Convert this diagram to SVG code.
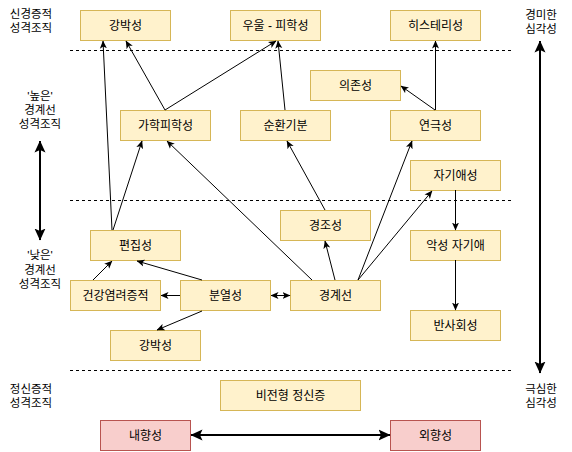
<svg xmlns="http://www.w3.org/2000/svg" width="572" height="452" viewBox="0 0 572 452">
<style>
text{font-family:"Liberation Sans","Noto Sans CJK KR",sans-serif;font-size:12px;fill:#000;text-anchor:middle}
.lbl{font-size:11.5px}
.n rect{fill:#fff2cc;stroke:#d6b656;stroke-width:1}
.r rect{fill:#f8cecc;stroke:#b85450;stroke-width:1}
.c line{stroke:#000;stroke-width:1;fill:none}
.c .thick{stroke-width:2}
.dash{stroke:#000;stroke-width:1;stroke-dasharray:3,3}
</style>
<defs>
<marker id="a" viewBox="0 0 8 8" markerWidth="8" markerHeight="8" refX="7.5" refY="4" orient="auto-start-reverse" markerUnits="userSpaceOnUse"><path d="M0,0.5 L8,4 L0,7.5 L2,4 Z" fill="#000"/></marker>
<marker id="b" viewBox="0 0 12 12" markerWidth="12" markerHeight="12" refX="11.5" refY="6" orient="auto-start-reverse" markerUnits="userSpaceOnUse"><path d="M0,0.5 L12,6 L0,11.5 L2.5,6 Z" fill="#000"/></marker>
</defs>
<rect width="572" height="452" fill="#fff"/>
<g id="dividers">
<line class="dash" x1="70" y1="50.5" x2="511" y2="50.5"/>
<line class="dash" x1="70" y1="200.5" x2="511" y2="200.5"/>
<line class="dash" x1="70" y1="370.5" x2="511" y2="370.5"/>
</g>
<g id="side-labels">
<text class="lbl" x="31" y="18">신경증적</text>
<text class="lbl" x="31" y="32">성격조직</text>
<text class="lbl" x="40" y="100">'높은'</text>
<text class="lbl" x="40" y="114">경계선</text>
<text class="lbl" x="40" y="128">성격조직</text>
<text class="lbl" x="40" y="259">'낮은'</text>
<text class="lbl" x="40" y="274">경계선</text>
<text class="lbl" x="40" y="288">성격조직</text>
<text class="lbl" x="31" y="393">정신증적</text>
<text class="lbl" x="31" y="407">성격조직</text>
<text class="lbl" x="541" y="19">경미한</text>
<text class="lbl" x="541" y="33">심각성</text>
<text class="lbl" x="541" y="393">극심한</text>
<text class="lbl" x="541" y="407">심각성</text>
</g>
<g id="n-gangbak-top" class="n"><rect x="80.5" y="10.5" width="90" height="30"/><text x="125.5" y="30">강박성</text></g>
<g id="n-uul" class="n"><rect x="230.5" y="10.5" width="90" height="30"/><text x="275.5" y="30">우울 - 피학성</text></g>
<g id="n-hysteria" class="n"><rect x="390.5" y="10.5" width="90" height="30"/><text x="435.5" y="30">히스테리성</text></g>
<g id="n-dependent" class="n"><rect x="310.5" y="70.5" width="90" height="30"/><text x="355.5" y="90">의존성</text></g>
<g id="n-sadomaso" class="n"><rect x="120.5" y="110.5" width="90" height="30"/><text x="165.5" y="130">가학피학성</text></g>
<g id="n-cyclo" class="n"><rect x="240.5" y="110.5" width="90" height="30"/><text x="285.5" y="130">순환기분</text></g>
<g id="n-histrionic" class="n"><rect x="390.5" y="110.5" width="90" height="30"/><text x="435.5" y="130">연극성</text></g>
<g id="n-narc" class="n"><rect x="410.5" y="160.5" width="90" height="30"/><text x="455.5" y="180">자기애성</text></g>
<g id="n-hypomanic" class="n"><rect x="280.5" y="210.5" width="90" height="30"/><text x="325.5" y="230">경조성</text></g>
<g id="n-paranoid" class="n"><rect x="90.5" y="230.5" width="90" height="30"/><text x="135.5" y="250">편집성</text></g>
<g id="n-malignant" class="n"><rect x="410.5" y="230.5" width="90" height="30"/><text x="455.5" y="250">악성 자기애</text></g>
<g id="n-hypochondria" class="n"><rect x="70.5" y="280.5" width="90" height="30"/><text x="115.5" y="300">건강염려증적</text></g>
<g id="n-schizoid" class="n"><rect x="180.5" y="280.5" width="90" height="30"/><text x="225.5" y="300">분열성</text></g>
<g id="n-borderline" class="n"><rect x="290.5" y="280.5" width="90" height="30"/><text x="335.5" y="300">경계선</text></g>
<g id="n-antisocial" class="n"><rect x="410.5" y="310.5" width="90" height="30"/><text x="455.5" y="330">반사회성</text></g>
<g id="n-gangbak-low" class="n"><rect x="110.5" y="330.5" width="90" height="30"/><text x="155.5" y="350">강박성</text></g>
<g id="n-atypical" class="n"><rect x="220.5" y="380.5" width="140" height="30"/><text x="290.5" y="400">비전형 정신증</text></g>
<g id="n-intro" class="r"><rect x="100.5" y="420.5" width="90" height="30"/><text x="145.5" y="440">내향성</text></g>
<g id="n-extro" class="r"><rect x="390.5" y="420.5" width="90" height="30"/><text x="435.5" y="440">외향성</text></g>
<g id="connectors" class="c">
<line x1="112" y1="230" x2="103" y2="41" marker-end="url(#a)"/>
<line x1="113" y1="230" x2="142" y2="141" marker-end="url(#a)"/>
<line x1="165" y1="110" x2="126" y2="41" marker-end="url(#a)"/>
<line x1="165" y1="110" x2="276" y2="41" marker-end="url(#a)"/>
<line x1="285" y1="110" x2="278" y2="41" marker-end="url(#a)"/>
<line x1="435.5" y1="110" x2="435.5" y2="41" marker-end="url(#a)"/>
<line x1="435" y1="110" x2="401" y2="86" marker-end="url(#a)"/>
<line x1="312" y1="280" x2="167" y2="141" marker-end="url(#a)"/>
<line x1="325" y1="210" x2="287" y2="141" marker-end="url(#a)"/>
<line x1="335" y1="280" x2="325" y2="241" marker-end="url(#a)"/>
<line x1="358" y1="280" x2="412" y2="141" marker-end="url(#a)"/>
<line x1="358" y1="280" x2="432" y2="191" marker-end="url(#a)"/>
<line x1="455.5" y1="190" x2="455.5" y2="230" marker-end="url(#a)"/>
<line x1="455.5" y1="260" x2="455.5" y2="310" marker-end="url(#a)"/>
<line x1="93" y1="280" x2="112" y2="261" marker-end="url(#a)"/>
<line x1="202" y1="280" x2="137" y2="261" marker-end="url(#a)"/>
<line x1="180" y1="295.5" x2="161" y2="295.5" marker-end="url(#a)"/>
<line x1="271" y1="295.5" x2="290" y2="295.5" marker-start="url(#a)" marker-end="url(#a)"/>
<line x1="202" y1="311" x2="157" y2="330" marker-end="url(#a)"/>
<line class="thick" x1="40" y1="141" x2="40" y2="240" marker-start="url(#b)" marker-end="url(#b)"/>
<line class="thick" x1="540" y1="41" x2="540" y2="373" marker-start="url(#b)" marker-end="url(#b)"/>
<line class="thick" x1="191" y1="435" x2="390" y2="435" marker-start="url(#b)" marker-end="url(#b)"/>
</g>
</svg>
